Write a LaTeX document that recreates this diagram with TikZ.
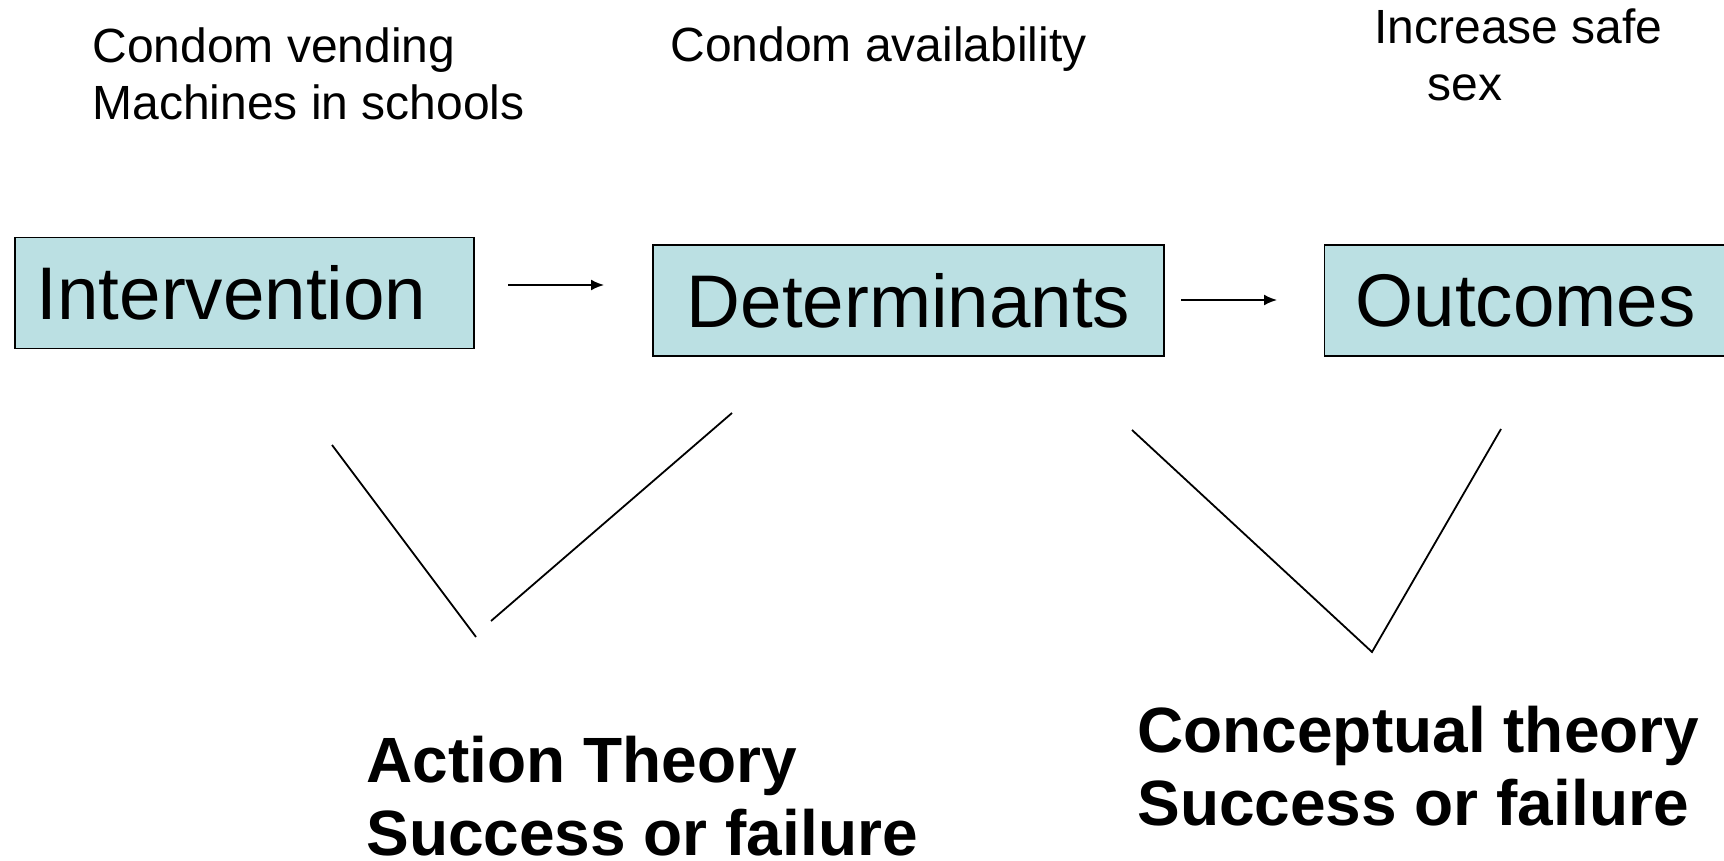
\documentclass[tikz,border=0pt]{standalone}
\usepackage{fontspec}
\setmainfont{Liberation Sans}
\usetikzlibrary{arrows.meta}
\definecolor{boxfill}{RGB}{187,224,227}
\begin{document}
\begin{tikzpicture}[x=0.5pt,y=-0.5pt,
  box/.style={draw=black, line width=0.9pt, fill=boxfill, minimum height=55.5pt,
    inner sep=0pt, font=\fontsize{37.3}{42}\selectfont},
  note/.style={anchor=base west, inner sep=0pt, align=left,
    font=\fontsize{24}{28.5}\selectfont},
  theory/.style={anchor=base west, inner sep=0pt, align=left,
    font=\bfseries\fontsize{32}{36.5}\selectfont},
  flow/.style={line width=0.9pt, -{Latex[length=6.5pt,width=5.5pt]}},
  link/.style={line width=0.9pt}]
\useasboundingbox (0,0) rectangle (1724,861);

% main chain
\node[box, minimum width=229.5pt] (int) at (244.5,293) {\hspace*{-13pt}Intervention};
\node[box, minimum width=255.5pt] (det) at (908.5,300.5) {Determinants};
\node[box, minimum width=201pt] (out) at (1525.5,300.5) {Outcomes};

% arrow end points
\coordinate (a1s) at (508,285);
\coordinate (a1e) at (604,285);
\coordinate (a2s) at (1181,300);
\coordinate (a2e) at (1277,300);
\draw[flow] (a1s) -- (a1e);
\draw[flow] (a2s) -- (a2e);

% captions above the boxes (anchored on the last line's baseline)
\node[note] (t1) at (92,120) {Condom vending\\Machines in schools};
\node[note] (t2) at (670,62) {Condom availability};
\node[note] (t3) at (1374,101) {Increase safe\\\hspace*{26.5pt}sex};

% theory wedges
\coordinate (l1a) at (332,445);
\coordinate (l1b) at (476,637);
\coordinate (l2a) at (491,621);
\coordinate (l2b) at (732,413);
\coordinate (r1) at (1132,430);
\coordinate (r2) at (1372,652);
\coordinate (r3) at (1501,429);
\draw[link] (l1a) -- (l1b);
\draw[link] (l2a) -- (l2b);
\draw[link] (r1) -- (r2) -- (r3);

% theory labels
\node[theory] (act) at (366,855) {Action Theory\\Success or failure};
\node[theory] (con) at (1137,825) {Conceptual theory\\Success or failure};
\end{tikzpicture}
\end{document}
